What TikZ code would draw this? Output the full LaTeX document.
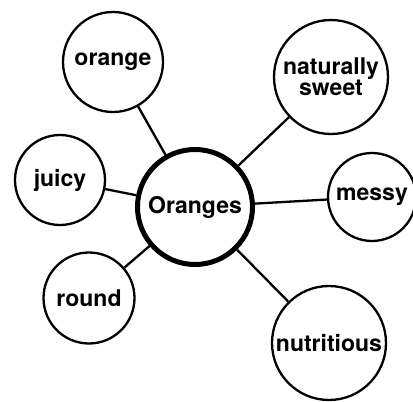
\documentclass[tikz,border=0pt]{standalone}
\usepackage{fontspec}
\setmainfont{TeX Gyre Heros}
\begin{document}
\begin{tikzpicture}[x=1pt,y=-1pt,
  leaf/.style={circle,draw,line width=2.3pt,inner sep=0pt,align=center,
    font=\fontsize{23}{21}\selectfont\bfseries},
  hub/.style={circle,draw,line width=5pt,inner sep=0pt,
    font=\fontsize{23}{21}\selectfont\bfseries},
  link/.style={line width=2.3pt}]
\useasboundingbox (0,0) rectangle (413,402);
\node[hub,minimum size=115pt] (c) at (195,207) {Oranges};
\node[leaf,minimum size=100pt] (o) at (113,62) {orange};
\node[leaf,minimum size=114pt] (s) at (331,77) {naturally\\sweet};
\node[leaf,minimum size=90pt] (j) at (60,180) {juicy};
\node[leaf,minimum size=88pt] (m) at (372,197) {messy};
\node[leaf,minimum size=91pt] (r) at (89,298) {round};
\node[leaf,minimum size=114pt] (n) at (329,343) {nutritious};
\draw[link] (c) -- (o);
\draw[link] (c) -- (s);
\draw[link] (c) -- (j);
\draw[link] (c) -- (m);
\draw[link] (c) -- (r);
\draw[link] (c) -- (n);
\end{tikzpicture}
\end{document}
